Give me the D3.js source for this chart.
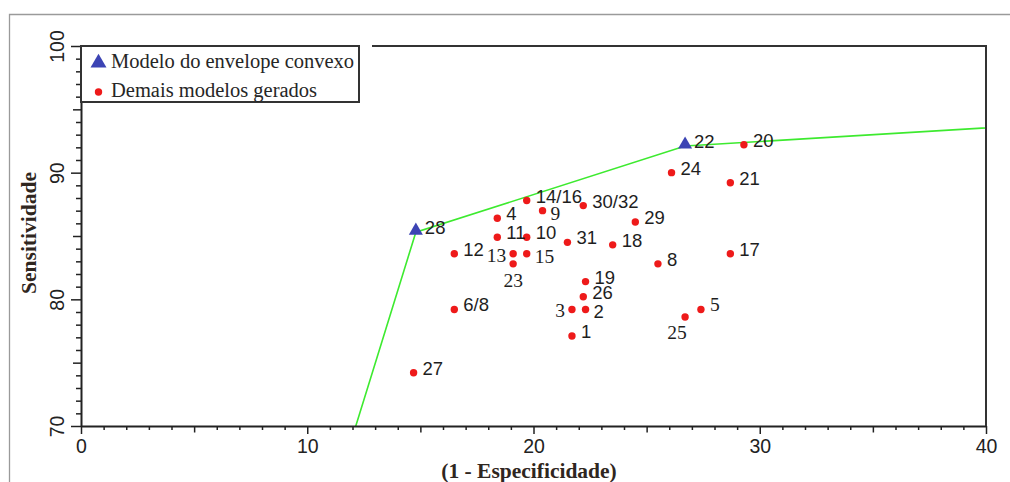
<!DOCTYPE html>
<html>
<head>
<meta charset="utf-8">
<script src="https://cdn.jsdelivr.net/npm/d3@7"></script>
<style>
  html, body { margin: 0; padding: 0; background: #fff; }
  svg { display: block; }
</style>
</head>
<body>
<svg id="chart" width="1010" height="482"></svg>
<script>
// models on the convex hull (triangles)
var hullLabels = ["28", "22"];
var hullFpr = [14.8, 26.7];
var hullSens = [85.3, 92.1];

// hull curve, from (0,0) to (100,100)
var curveFpr = [0, 14.8, 26.7, 100];
var curveSens = [0, 85.3, 92.1, 100];

// remaining models (red dots)
var otherLabels = ["1", "2", "3", "4", "5", "6/8", "8", "9", "10", "11", "12", "13", "15", "14/16",
  "17", "18", "19", "20", "21", "23", "24", "25", "26", "27", "29", "30/32", "31"];
var otherFpr = [21.7, 22.3, 21.7, 18.4, 27.4, 16.5, 25.5, 20.4, 19.7, 18.4, 16.5, 19.1, 19.7, 19.7,
  28.7, 23.5, 22.3, 29.3, 28.7, 19.1, 26.1, 26.7, 22.2, 14.7, 24.5, 22.2, 21.5];
var otherSens = [77.1, 79.2, 79.2, 86.4, 79.2, 79.2, 82.8, 87.0, 84.9, 84.9, 83.6, 83.6, 83.6, 87.8,
  83.6, 84.3, 81.4, 92.2, 89.2, 82.8, 90.0, 78.6, 80.2, 74.2, 86.1, 87.4, 84.5];

var xTickLabels = [0, 10, 20, 30, 40];
var yTickLabels = [70, 80, 90, 100];

var legendNames = ["Modelo do envelope convexo", "Demais modelos gerados"];
var xTitle = "(1 - Especificidade)";
var yTitle = "Sensitividade";

// label placement (default: right, slightly raised)
var labelPlace = { "13": "left", "3": "left", "23": "below", "25": "belowLeft", "9": "rightLow", "15": "rightLow", "2": "rightLow" };
var serifLabels = ["13", "15", "23", "25", "3", "9", "5"];

var svg = d3.select('#chart');
var plotLeft = 81, plotRight = 986, plotTop = 46, plotBottom = 426;

var x = d3.scaleLinear().domain([0, 40]).range([plotLeft, plotRight]);
var y = d3.scaleLinear().domain([70, 100]).range([plotBottom, plotTop]);

var sansFont = '"Liberation Sans", Arial, sans-serif';
var serifFont = '"Liberation Serif", "Times New Roman", serif';

// outer frame
svg.append('path')
  .attr('d', 'M9.5,482 V14.5 H1010')
  .attr('fill', 'none')
  .attr('stroke', '#9a9a9a')
  .attr('stroke-width', 1.3);

svg.append('defs').append('clipPath').attr('id', 'plotClip')
  .append('rect')
    .attr('x', plotLeft).attr('y', plotTop)
    .attr('width', plotRight - plotLeft).attr('height', plotBottom - plotTop);

// hull line
var hullPts = curveFpr.map(function(d, i) { return [d, curveSens[i]]; });
svg.append('path')
  .datum(hullPts)
  .attr('clip-path', 'url(#plotClip)')
  .attr('fill', 'none')
  .attr('stroke', '#3dea2f')
  .attr('stroke-width', 1.6)
  .attr('d', d3.line().x(function(d) { return x(d[0]); }).y(function(d) { return y(d[1]); }));

// x axis
var xAxis = d3.axisBottom(x)
  .tickValues(d3.range(0, 41, 1))
  .tickFormat(function(d) { return xTickLabels.indexOf(d) >= 0 ? d : ''; })
  .tickSizeOuter(0);
var gx = svg.append('g').attr('transform', 'translate(0,' + plotBottom + ')').call(xAxis);
gx.selectAll('.tick line')
  .attr('stroke', '#222')
  .attr('stroke-width', 1.5)
  .attr('y2', function(d) { return d % 10 === 0 ? 8 : (d % 5 === 0 ? 6.5 : 4); });
gx.selectAll('.tick text')
  .attr('font-family', sansFont)
  .attr('font-size', 19.5)
  .attr('fill', '#222')
  .attr('y', 26.5)
  .attr('dy', null);
gx.select('.domain').attr('stroke', '#222').attr('stroke-width', 2);

// y axis
var yAxis = d3.axisLeft(y)
  .tickValues(d3.range(70, 101, 1))
  .tickFormat(function(d) { return yTickLabels.indexOf(d) >= 0 ? d : ''; })
  .tickSizeOuter(0);
var gy = svg.append('g').attr('transform', 'translate(' + plotLeft + ',0)').call(yAxis);
gy.selectAll('.tick line')
  .attr('stroke', '#222')
  .attr('stroke-width', 1.5)
  .attr('x2', function(d) { return d % 10 === 0 ? -10 : (d % 5 === 0 ? -8 : -5); });
gy.selectAll('.tick text')
  .attr('font-family', sansFont)
  .attr('font-size', 19.5)
  .attr('fill', '#222')
  .attr('x', 0)
  .attr('y', -17)
  .attr('dy', null)
  .attr('text-anchor', 'middle')
  .attr('transform', 'rotate(-90)');
gy.select('.domain').attr('stroke', '#222').attr('stroke-width', 2);

// top and right frame lines
svg.append('path')
  .attr('d', 'M' + plotLeft + ',' + plotTop + ' H' + plotRight + ' V' + plotBottom)
  .attr('fill', 'none')
  .attr('stroke', '#333')
  .attr('stroke-width', 2);

// red dots
var others = otherLabels.map(function(d, i) { return { label: d, fpr: otherFpr[i], sens: otherSens[i] }; });
svg.append('g').selectAll('circle')
  .data(others)
  .enter()
    .append('circle')
      .attr('cx', function(d) { return x(d.fpr); })
      .attr('cy', function(d) { return y(d.sens); })
      .attr('r', 3.7)
      .attr('fill', '#ee1a1a');

// hull triangles
var hull = hullLabels.map(function(d, i) { return { label: d, fpr: hullFpr[i], sens: hullSens[i] }; });
svg.append('g').selectAll('path')
  .data(hull)
  .enter()
    .append('path')
      .attr('d', d3.symbol(d3.symbolTriangle, 85))
      .attr('transform', function(d) { return 'translate(' + x(d.fpr) + ',' + (y(d.sens) - 1.5) + ')'; })
      .attr('fill', '#3c44b4');

// point labels
var labelOffset = function(p) {
  if (p === 'left') return { dx: -7, dy: 8, anchor: 'end' };
  if (p === 'below') return { dx: 0, dy: 23, anchor: 'middle' };
  if (p === 'belowLeft') return { dx: -8, dy: 22, anchor: 'middle' };
  if (p === 'rightLow') return { dx: 8, dy: 9, anchor: 'start' };
  return { dx: 9, dy: 2, anchor: 'start' };
};

svg.append('g').selectAll('text')
  .data(others.concat(hull))
  .enter()
    .append('text')
      .text(function(d) { return d.label; })
      .attr('x', function(d) { return x(d.fpr) + labelOffset(labelPlace[d.label]).dx; })
      .attr('y', function(d) { return y(d.sens) + labelOffset(labelPlace[d.label]).dy; })
      .attr('text-anchor', function(d) { return labelOffset(labelPlace[d.label]).anchor; })
      .attr('font-family', function(d) { return serifLabels.indexOf(d.label) >= 0 ? serifFont : sansFont; })
      .attr('font-size', function(d) { return serifLabels.indexOf(d.label) >= 0 ? 19.5 : 18.5; })
      .attr('fill', '#1e1e1e');

// legend
var legend = svg.append('g');
legend.append('rect')
  .attr('x', plotLeft).attr('y', plotTop - 1)
  .attr('width', 291).attr('height', 58)
  .attr('fill', '#fff');
legend.append('rect')
  .attr('x', plotLeft).attr('y', plotTop)
  .attr('width', 278).attr('height', 56)
  .attr('fill', '#fff')
  .attr('stroke', '#333')
  .attr('stroke-width', 2);
legend.append('path')
  .attr('d', d3.symbol(d3.symbolTriangle, 110))
  .attr('transform', 'translate(98.5,63)')
  .attr('fill', '#3c44b4');
legend.append('circle')
  .attr('cx', 98.5).attr('cy', 92)
  .attr('r', 3.7)
  .attr('fill', '#ee1a1a');
legend.selectAll('text')
  .data(legendNames)
  .enter()
    .append('text')
      .text(function(d) { return d; })
      .attr('x', 111)
      .attr('y', function(d, i) { return 68 + i * 29; })
      .attr('font-family', serifFont)
      .attr('font-size', 20.5)
      .attr('fill', '#262626');

// axis titles
svg.append('text')
  .text(xTitle)
  .attr('x', 529)
  .attr('y', 478)
  .attr('text-anchor', 'middle')
  .attr('font-family', serifFont)
  .attr('font-weight', 'bold')
  .attr('font-size', 21.5)
  .attr('fill', '#2f2620');

svg.append('text')
  .text(yTitle)
  .attr('transform', 'translate(36,233) rotate(-90)')
  .attr('text-anchor', 'middle')
  .attr('font-family', serifFont)
  .attr('font-weight', 'bold')
  .attr('font-size', 21.5)
  .attr('fill', '#2f2620');
</script>
</body>
</html>
